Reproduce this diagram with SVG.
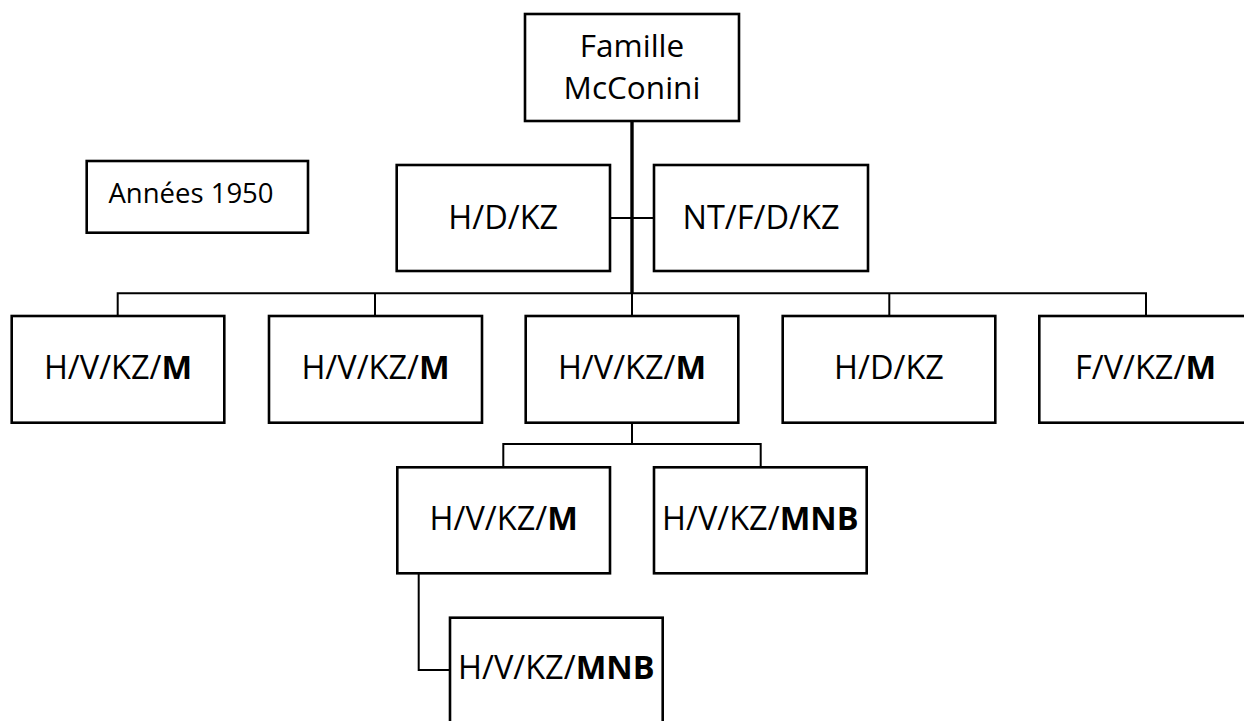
<svg xmlns="http://www.w3.org/2000/svg" width="1244" height="721" viewBox="0 0 1244 721">
  <style>
    .box { fill: #ffffff; stroke: #000000; stroke-width: 2.6; }
    .wire { fill: none; stroke: #000000; stroke-width: 2; }
    .trunk { fill: none; stroke: #000000; stroke-width: 3.4; }
    text { font-family: "Open Sans", "Liberation Sans", sans-serif; fill: #000000; text-anchor: middle; }
    .lbl { font-size: 32.5px; }
    .top { font-size: 31.5px; }
    .yr { font-size: 27.5px; }
    .b { font-weight: bold; }
  </style>

  <!-- connectors -->
  <g id="connectors">
    <path class="trunk" d="M632 121 V294"/>
    <path class="wire" d="M610 218 H654"/>
    <path class="wire" d="M117.7 316 V293.3 H1146 V316"/>
    <path class="wire" d="M375 293.3 V316"/>
    <path class="wire" d="M632 293.3 V316"/>
    <path class="wire" d="M889.3 293.3 V316"/>
    <path class="wire" d="M632 423 V444"/>
    <path class="wire" d="M503.3 467 V444 H760.7 V467"/>
    <path class="wire" d="M418.7 573.3 V670 H450"/>
  </g>

  <!-- root -->
  <g id="node-famille">
    <rect class="box" x="525" y="14" width="214" height="107"/>
    <text class="top" x="632" y="57">Famille</text>
    <text class="top" x="632" y="99">McConini</text>
  </g>

  <g id="node-annees">
    <rect class="box" x="86.7" y="161" width="221.3" height="71.7"/>
    <text class="yr" x="191" y="203">Années 1950</text>
  </g>

  <!-- second row -->
  <g id="node-hdkz-top">
    <rect class="box" x="396.7" y="165" width="213.3" height="106"/>
    <text class="lbl" x="503.3" y="229">H/D/KZ</text>
  </g>
  <g id="node-ntfdkz">
    <rect class="box" x="654" y="165" width="214" height="106"/>
    <text class="lbl" x="761" y="229">NT/F/D/KZ</text>
  </g>

  <!-- third row -->
  <g id="node-hvkzm-1">
    <rect class="box" x="11.7" y="316" width="212.6" height="106.7"/>
    <text class="lbl" x="118" y="379">H/V/KZ/<tspan class="b">M</tspan></text>
  </g>
  <g id="node-hvkzm-2">
    <rect class="box" x="269" y="316" width="213" height="106.7"/>
    <text class="lbl" x="375.5" y="379">H/V/KZ/<tspan class="b">M</tspan></text>
  </g>
  <g id="node-hvkzm-3">
    <rect class="box" x="525.7" y="316" width="212.6" height="106.7"/>
    <text class="lbl" x="632" y="379">H/V/KZ/<tspan class="b">M</tspan></text>
  </g>
  <g id="node-hdkz">
    <rect class="box" x="782.7" y="316" width="212.6" height="106.7"/>
    <text class="lbl" x="889" y="379">H/D/KZ</text>
  </g>
  <g id="node-fvkzm">
    <rect class="box" x="1039.3" y="316" width="212.7" height="106.7"/>
    <text class="lbl" x="1145.5" y="379">F/V/KZ/<tspan class="b">M</tspan></text>
  </g>

  <!-- fourth row -->
  <g id="node-hvkzm-4">
    <rect class="box" x="397.3" y="467.3" width="212.7" height="106"/>
    <text class="lbl" x="503.7" y="530">H/V/KZ/<tspan class="b">M</tspan></text>
  </g>
  <g id="node-hvkzmnb-1">
    <rect class="box" x="654" y="467.3" width="212.7" height="106"/>
    <text class="lbl" x="760.3" y="530">H/V/KZ/<tspan class="b">MNB</tspan></text>
  </g>

  <!-- fifth row -->
  <g id="node-hvkzmnb-2">
    <rect class="box" x="450" y="617.7" width="212.7" height="108"/>
    <text class="lbl" x="556.3" y="679">H/V/KZ/<tspan class="b">MNB</tspan></text>
  </g>
</svg>
